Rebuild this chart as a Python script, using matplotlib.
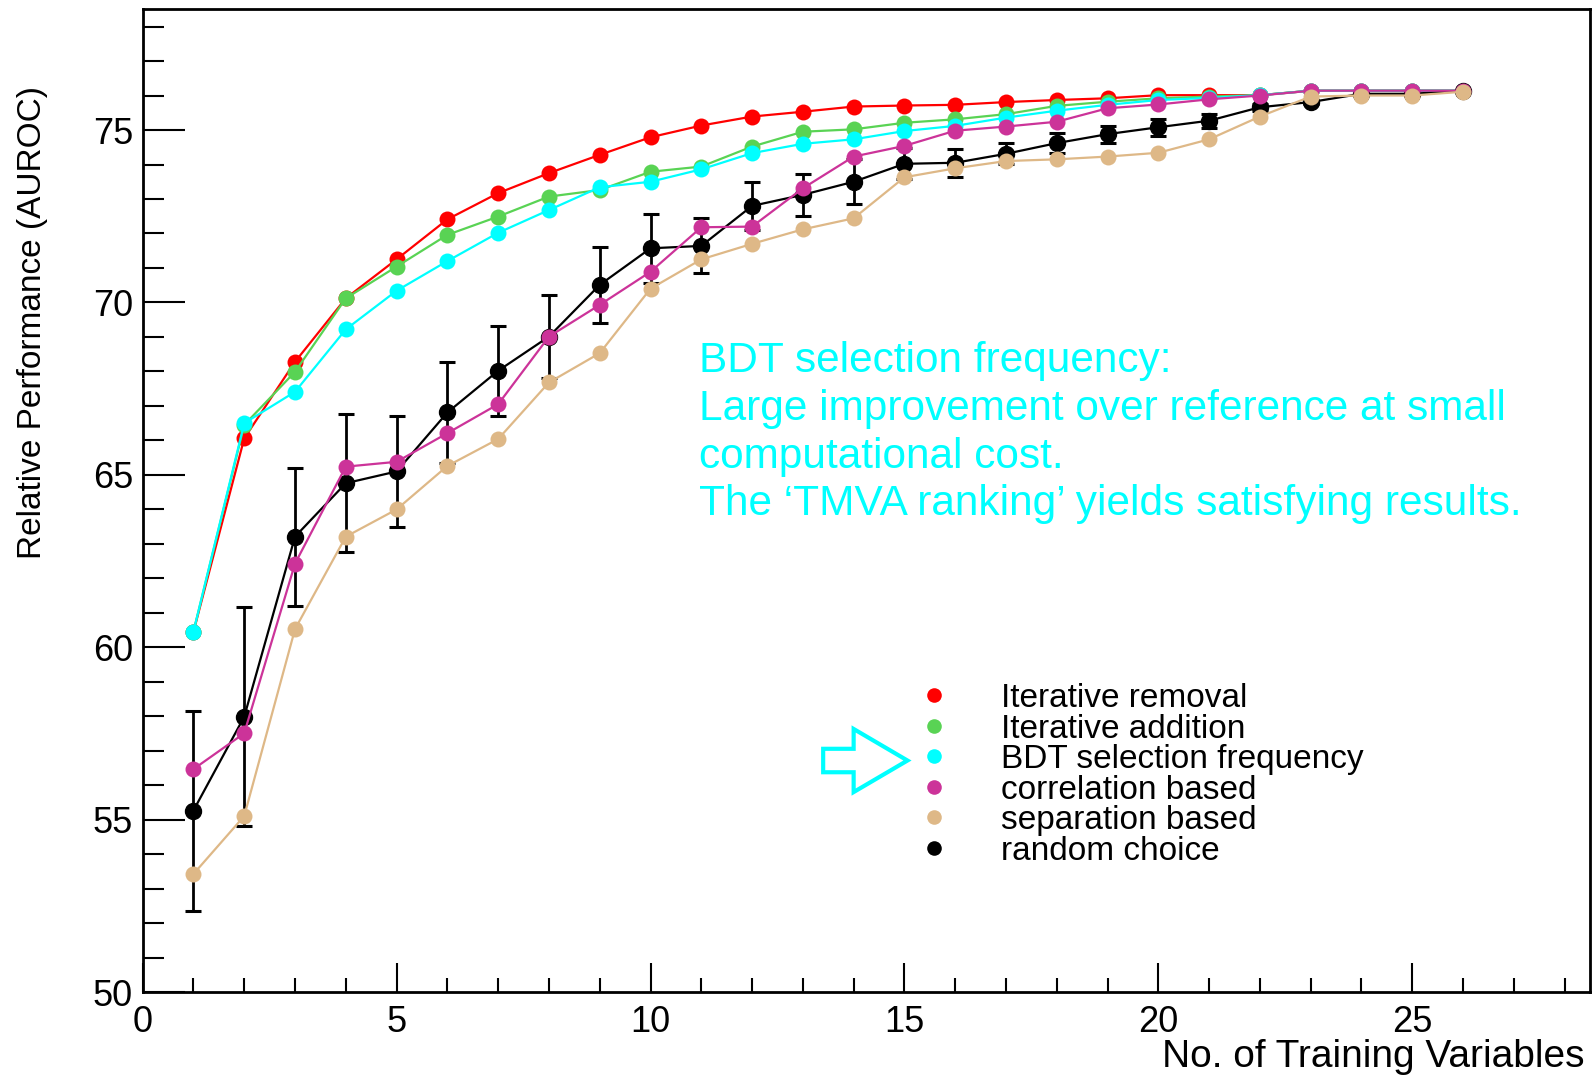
import matplotlib
matplotlib.use("Agg")
import matplotlib.pyplot as plt
import matplotlib.ticker as ticker
from matplotlib.patches import FancyArrow

plt.rcParams["font.family"] = ["Liberation Sans", "DejaVu Sans"]

# ── data ──────────────────────────────────────
n_vars = list(range(1, 27))

removal = [60.45, 66.06, 68.28, 70.12, 71.25, 72.41, 73.17, 73.75, 74.28, 74.79, 75.13, 75.39, 75.53,
           75.68, 75.71, 75.73, 75.81, 75.87, 75.92, 76.01, 76.01, 76.01, 76.14, 76.14, 76.14, 76.14]
addition = [60.45, 66.45, 67.99, 70.12, 71.04, 71.96, 72.49, 73.07, 73.26, 73.79, 73.94, 74.52, 74.95,
            75.02, 75.21, 75.31, 75.46, 75.70, 75.82, 75.92, 75.97, 76.01, 76.14, 76.14, 76.14, 76.14]
bdt_freq = [60.46, 66.50, 67.41, 69.22, 70.34, 71.20, 72.02, 72.68, 73.34, 73.50, 73.86, 74.33, 74.60,
            74.73, 74.97, 75.12, 75.36, 75.56, 75.73, 75.87, 75.93, 76.01, 76.14, 76.14, 76.14, 76.14]
correlation = [56.47, 57.51, 62.43, 65.24, 65.38, 66.21, 67.05, 69.01, 69.93, 70.89, 72.18, 72.20, 73.31,
               74.23, 74.54, 74.98, 75.10, 75.24, 75.63, 75.74, 75.89, 76.00, 76.14, 76.14, 76.14, 76.14]
separation = [53.43, 55.11, 60.53, 63.21, 64.00, 65.26, 66.04, 67.68, 68.53, 70.40, 71.25, 71.70, 72.12,
              72.44, 73.63, 73.89, 74.10, 74.15, 74.23, 74.34, 74.73, 75.39, 75.97, 76.00, 76.00, 76.11]
random_choice = [55.27, 57.99, 63.21, 64.76, 65.10, 66.81, 68.02, 69.01, 70.51, 71.57, 71.64, 72.80, 73.12,
                 73.50, 74.02, 74.05, 74.31, 74.62, 74.88, 75.08, 75.27, 75.66, 75.81, 76.05, 76.05, 76.14]
random_err = [2.90, 3.18, 2.00, 2.00, 1.60, 1.47, 1.30, 1.20, 1.10, 1.00, 0.80, 0.70, 0.60,
              0.65, 0.45, 0.40, 0.30, 0.29, 0.25, 0.25, 0.20, 0.10, 0.05, 0.03, 0.03, 0.00]

labels = ["Iterative removal", "Iterative addition", "BDT selection frequency",
          "correlation based", "separation based", "random choice"]
colors = ["#ff0000", "#59d354", "#00ffff", "#cc3399", "#deb887", "#000000"]

fig = plt.figure(figsize=(15.94, 10.8), dpi=100, facecolor="white")
ax = fig.add_axes([0.0895, 0.0812, 0.908, 0.9102])

line_kw = dict(linewidth=1.6, marker="o", markersize=11.5)

ax.plot(n_vars, removal, color=colors[0], markeredgewidth=0, zorder=3, **line_kw)
ax.plot(n_vars, addition, color=colors[1], markeredgewidth=0, zorder=4, **line_kw)
ax.plot(n_vars, bdt_freq, color=colors[2], markeredgewidth=0, zorder=5, **line_kw)
ax.errorbar(n_vars, random_choice, yerr=random_err, color=colors[5],
            elinewidth=2.0, capsize=6, capthick=2.2, zorder=6, **line_kw)
ax.plot(n_vars, correlation, color=colors[3], markeredgewidth=0, zorder=7, **line_kw)
ax.plot(n_vars, separation, color=colors[4], markeredgewidth=0, zorder=8, **line_kw)

# axes ranges / ticks (ROOT style)
ax.set_xlim(0, 28.5)
ax.set_ylim(50, 78.5)
ax.xaxis.set_major_locator(ticker.MultipleLocator(5))
ax.xaxis.set_minor_locator(ticker.MultipleLocator(1))
ax.yaxis.set_major_locator(ticker.MultipleLocator(5))
ax.yaxis.set_minor_locator(ticker.MultipleLocator(1))
ax.tick_params(axis="x", which="major", direction="in", length=21, width=1.5, labelsize=26, pad=9)
ax.tick_params(axis="x", which="minor", direction="in", length=10, width=1.5)
ax.tick_params(axis="y", which="major", direction="in", length=30, width=1.5, labelsize=26, pad=7)
ax.tick_params(axis="y", which="minor", direction="in", length=15, width=1.5)
for spine in ax.spines.values():
    spine.set_linewidth(2)

ax.set_xlabel("No. of Training Variables", fontsize=28, ha="right")
ax.xaxis.set_label_coords(0.9959, -0.047)
ax.set_ylabel("Relative Performance (AUROC)", fontsize=24)
ax.yaxis.set_label_coords(-0.0656, 0.681)

# annotation text
ax.text(10.96, 68.88,
        "BDT selection frequency:\nLarge improvement over reference at small\n"
        "computational cost.\nThe \u2018TMVA ranking\u2019 yields satisfying results.",
        color="#00ffff", fontsize=30.5, ha="left", va="top", linespacing=1.25)

# legend (markers only), ROOT-like tight rows
leg_x, leg_tx, leg_y0, leg_dy = 0.5467, 0.5930, 0.3020, 0.0310
for i, (lab, col) in enumerate(zip(labels, colors)):
    yy = leg_y0 - i * leg_dy
    ax.plot([leg_x], [yy], transform=ax.transAxes, ls="none", marker="o",
            markersize=10.5, markeredgewidth=0, color=col, clip_on=False, zorder=10)
    ax.text(leg_tx, yy, lab, transform=ax.transAxes, fontsize=24,
            ha="left", va="center_baseline", color="black", zorder=10)

# hollow arrow pointing at BDT entry
ax.add_patch(FancyArrow(13.40, 56.72, 1.66, 0, width=0.68, head_width=1.83, head_length=1.06,
                        length_includes_head=True, fill=False, edgecolor="#00ffff",
                        linewidth=3, zorder=9))

fig.savefig("out.png", dpi=100, facecolor="white")
